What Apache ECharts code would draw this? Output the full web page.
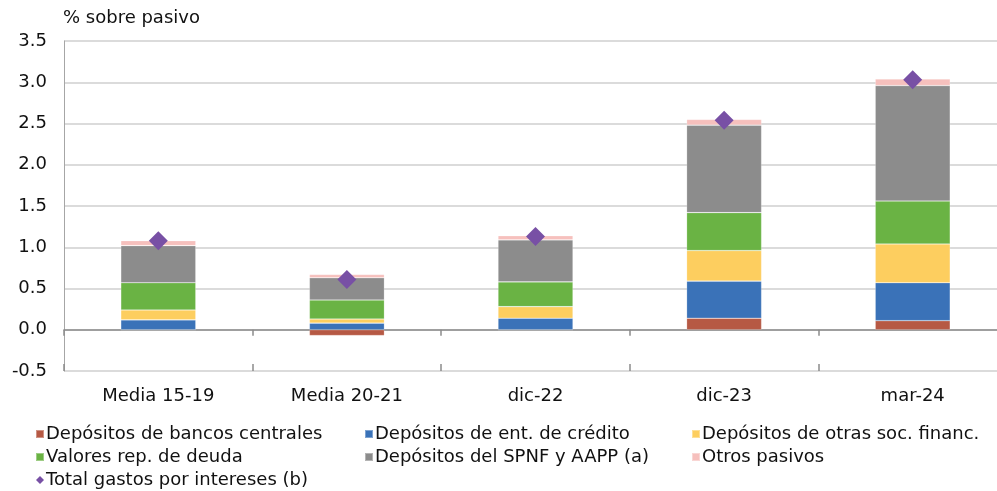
<!DOCTYPE html>
<html>
<head>
<meta charset="utf-8">
<script src="https://cdn.jsdelivr.net/npm/echarts@6/dist/echarts.min.js"></script>
<style>
html,body{margin:0;padding:0;background:#fff;}
#c{width:997px;height:491px;}
</style>
</head>
<body>
<div id="c"></div>
<script>
const categories = ['Media 15-19', 'Media 20-21', 'dic-22', 'dic-23', 'mar-24'];
const bancosCentrales = [0.00, -0.07, 0.00, 0.14, 0.11];
const entCredito = [0.12, 0.08, 0.14, 0.45, 0.46];
const otrasSocFinanc = [0.12, 0.05, 0.14, 0.37, 0.47];
const valoresDeuda = [0.33, 0.23, 0.30, 0.46, 0.52];
const spnfAapp = [0.45, 0.27, 0.51, 1.06, 1.40];
const otrosPasivos = [0.06, 0.04, 0.05, 0.07, 0.08];
const totalGastos = [1.08, 0.61, 1.13, 2.54, 3.03];
const yTicks = ['-0.5', '0.0', '0.5', '1.0', '1.5', '2.0', '2.5', '3.0', '3.5'];

const names = ['Depósitos de bancos centrales', 'Depósitos de ent. de crédito', 'Depósitos de otras soc. financ.',
  'Valores rep. de deuda', 'Depósitos del SPNF y AAPP (a)', 'Otros pasivos', 'Total gastos por intereses (b)'];
const colors = ['#B65944', '#3A72B8', '#FDCE5F', '#6AB344', '#8C8C8C', '#F6C0BD', '#7850A5'];
const barData = [bancosCentrales, entCredito, otrasSocFinanc, valoresDeuda, spnfAapp, otrosPasivos];

const FONT = 'DejaVu Sans, sans-serif';
const FS = 18;
const chart = echarts.init(document.getElementById('c'), null, {renderer: 'canvas'});

const series = barData.map((d, i) => ({
  name: names[i], type: 'bar', stack: 'tot', data: d, barWidth: 75,
  itemStyle: {color: colors[i], borderColor: 'rgba(255,255,255,0.35)', borderWidth: 0.6}, xAxisIndex: 0
}));
series.push({
  name: names[6], type: 'scatter', data: totalGastos, symbol: 'diamond', symbolSize: 19,
  itemStyle: {color: colors[6], opacity: 1}, z: 5, xAxisIndex: 0
});

const legendBase = {
  orient: 'vertical', itemWidth: 8, itemHeight: 8, itemGap: 3, top: 424,
  textStyle: {fontFamily: FONT, fontSize: FS, color: '#111', lineHeight: 20, padding: [0, 0, 0, -3]},
  selectedMode: false, padding: 0
};

chart.setOption({
  animation: false,
  textStyle: {fontFamily: FONT},
  color: colors,
  title: {text: '% sobre pasivo', left: 63, top: 9, padding: 0, textStyle: {fontFamily: FONT, fontSize: FS, fontWeight: 'normal', color: '#111'}},
  grid: {left: 64, top: 41, height: 330, width: 943, outerBoundsMode: 'none', containLabel: false},
  legend: [
    Object.assign({}, legendBase, {left: 35, data: [{name: names[0], icon: 'rect'}, {name: names[3], icon: 'rect'}, {name: names[6], icon: 'diamond', itemStyle: {opacity: 1}}]}),
    Object.assign({}, legendBase, {left: 364, data: [{name: names[1], icon: 'rect'}, {name: names[4], icon: 'rect'}]}),
    Object.assign({}, legendBase, {left: 691, data: [{name: names[2], icon: 'rect'}, {name: names[5], icon: 'rect'}]})
  ],
  xAxis: [
    {type: 'category', data: categories, position: 'bottom',
      axisLine: {show: false, onZero: false}, axisTick: {show: false},
      axisLabel: {fontFamily: FONT, fontSize: FS, color: '#111', margin: 16}},
    {type: 'category', data: categories, position: 'bottom',
      axisLine: {show: true, onZero: true, lineStyle: {color: '#8C8C8C', width: 1.5}},
      axisTick: {show: true, length: 6, lineStyle: {color: '#8C8C8C', width: 1.5}},
      axisLabel: {show: false}},
    {type: 'category', data: categories, position: 'bottom',
      axisLine: {show: false, onZero: true},
      axisTick: {show: true, inside: true, length: 7, lineStyle: {color: '#8C8C8C', width: 1.5}},
      axisLabel: {show: false}}
  ],
  yAxis: {
    type: 'value', min: -0.5, max: 3.5, interval: 0.5,
    axisLine: {show: true, lineStyle: {color: '#A6A6A6', width: 1}},
    axisTick: {show: false},
    splitLine: {show: true, lineStyle: {color: '#CFCFCF', width: 1.5}},
    axisLabel: {fontFamily: FONT, fontSize: FS, color: '#111', margin: 17,
      formatter: v => yTicks[Math.round((v + 0.5) / 0.5)]}
  },
  series: series
});
</script>
</body>
</html>
